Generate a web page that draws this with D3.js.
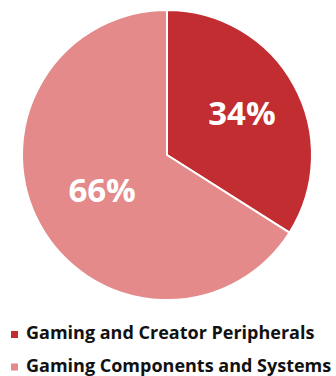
<!DOCTYPE html>
<html>
<head>
<meta charset="utf-8">
<script src="https://cdn.jsdelivr.net/npm/d3@7"></script>
<style>
  html, body { margin: 0; padding: 0; background: #fff; }
  svg { display: block; }
  text { font-family: "Open Sans", "Noto Sans", sans-serif; font-weight: 700; }
</style>
</head>
<body>
<script>
// Revenue split by segment
const segments = ["Gaming and Creator Peripherals", "Gaming Components and Systems"];
const shares = [34, 66];
const colors = ["#c22d32", "#e48a8a"];

const width = 336, height = 376;
const cx = 167, cy = 155, radius = 145;

const svg = d3.select("body").append("svg")
  .attr("width", width)
  .attr("height", height);

const pie = d3.pie().sort(null).value(d => d.value);
const slices = pie(segments.map((name, i) => ({ name, value: shares[i], color: colors[i] })));

const arc = d3.arc().innerRadius(0).outerRadius(radius);
const labelArc = d3.arc().innerRadius(radius * 0.55).outerRadius(radius * 0.55);

const g = svg.append("g").attr("transform", `translate(${cx},${cy})`);

g.selectAll("path.slice")
  .data(slices)
  .join("path")
  .attr("class", "slice")
  .attr("d", arc)
  .attr("fill", d => d.data.color)
  .attr("stroke", "#fff")
  .attr("stroke-width", 2)
  .attr("stroke-linejoin", "round");

g.selectAll("text.pct")
  .data(slices)
  .join("text")
  .attr("class", "pct")
  .attr("transform", d => {
    const [x, y] = labelArc.centroid(d);
    return `translate(${x + 5},${y - 3})`;
  })
  .attr("text-anchor", "middle")
  .attr("dy", "0.36em")
  .attr("fill", "#fff")
  .attr("font-size", 33)
  .text(d => `${d.data.value}%`);

// Legend
const legend = svg.append("g").attr("transform", "translate(10,0)");
const rows = legend.selectAll("g.row")
  .data(slices)
  .join("g")
  .attr("class", "row")
  .attr("transform", (d, i) => `translate(0,${339 + i * 32.5})`);

rows.append("rect")
  .attr("x", 1)
  .attr("y", -8)
  .attr("width", 7)
  .attr("height", 7)
  .attr("fill", d => d.data.color);

rows.append("text")
  .attr("x", 16)
  .attr("y", 0)
  .attr("fill", "#111")
  .attr("font-size", 18)
  .text(d => d.data.name);
</script>
</body>
</html>
